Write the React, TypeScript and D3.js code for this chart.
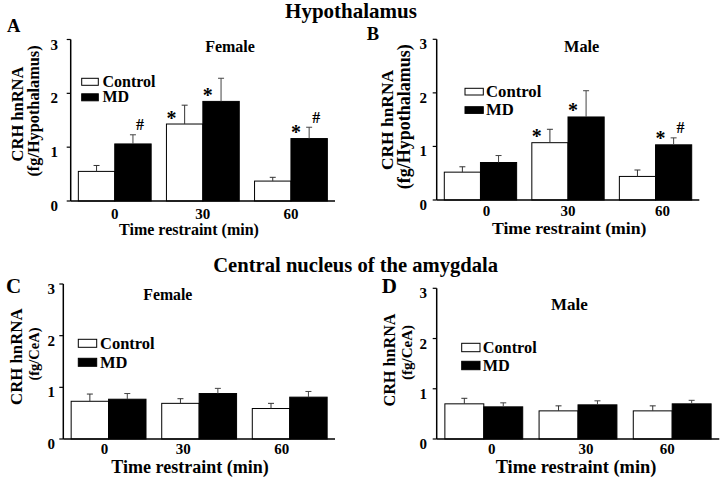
import React from "react";
import * as d3 from "d3";

// ---------- data ----------
const categories = ["0", "30", "60"];
const seriesNames = ["Control", "MD"];
const yTicks = [0, 1, 2, 3];

const hypoFemaleControl = [0.55, 1.43, 0.37];
const hypoFemaleControlSem = [0.11, 0.35, 0.07];
const hypoFemaleMD = [1.06, 1.85, 1.16];
const hypoFemaleMDSem = [0.17, 0.43, 0.21];

const hypoMaleControl = [0.52, 1.07, 0.44];
const hypoMaleControlSem = [0.1, 0.25, 0.12];
const hypoMaleMD = [0.7, 1.55, 1.03];
const hypoMaleMDSem = [0.13, 0.49, 0.13];

const ceaFemaleControl = [0.73, 0.69, 0.59];
const ceaFemaleControlSem = [0.14, 0.09, 0.1];
const ceaFemaleMD = [0.77, 0.88, 0.81];
const ceaFemaleMDSem = [0.11, 0.1, 0.11];

const ceaMaleControl = [0.7, 0.56, 0.56];
const ceaMaleControlSem = [0.11, 0.1, 0.1];
const ceaMaleMD = [0.64, 0.68, 0.7];
const ceaMaleMDSem = [0.08, 0.08, 0.07];

// significance marks: [group index, series index, symbol]
const hypoFemaleMarks: [number, number, string][] = [
  [0, 1, "#"],
  [1, 0, "*"],
  [1, 1, "*"],
  [2, 1, "*"],
  [2, 1, "#"],
];
const hypoMaleMarks: [number, number, string][] = [
  [1, 0, "*"],
  [1, 1, "*"],
  [2, 1, "*"],
  [2, 1, "#"],
];
const ceaMarks: [number, number, string][] = [];

const FONT = "'Liberation Serif', 'Times New Roman', Times, serif";

type Panel = {
  letter: string;
  sex: string;
  unit: string;
  values: number[][];
  sems: number[][];
  marks: [number, number, string][];
  x0: number; x1: number; y0: number; y3: number;
  letterX: number; letterY: number; letterSize: number;
  sexX: number; sexY: number; sexSize: number;
  legX: number; legY: number; legW: number; legH: number; legTextX: number; legStep: number; legSize: number;
  yl1X: number; yl1Y: number; yl1Size: number;
  yl2X: number; yl2Y: number; yl2Size: number;
  tickY: number; tickDx: number[]; titleX: number; titleY: number; titleSize: number;
  yTickX: number;
};

const panels: Panel[] = [
  {
    letter: "A", sex: "Female", unit: "(fg/Hypothalamus)",
    values: [hypoFemaleControl, hypoFemaleMD], sems: [hypoFemaleControlSem, hypoFemaleMDSem], marks: hypoFemaleMarks,
    x0: 70.7, x1: 335, y0: 201, y3: 39.5,
    letterX: 7, letterY: 31.7, letterSize: 18.5,
    sexX: 230, sexY: 51.7, sexSize: 16,
    legX: 81.7, legY: 78.3, legW: 16.6, legH: 7, legTextX: 102.5, legStep: 15.5, legSize: 16,
    yl1X: 23, yl1Y: 114, yl1Size: 16.5,
    yl2X: 38.5, yl2Y: 111, yl2Size: 16.3,
    tickY: 219, tickDx: [0, 0, 0], titleX: 189, titleY: 234.5, titleSize: 16,
    yTickX: 58,
  },
  {
    letter: "B", sex: "Male", unit: "(fg/Hypothalamus)",
    values: [hypoMaleControl, hypoMaleMD], sems: [hypoMaleControlSem, hypoMaleMDSem], marks: hypoMaleMarks,
    x0: 436.7, x1: 699.3, y0: 200, y3: 39.3,
    letterX: 366.7, letterY: 40, letterSize: 18.5,
    sexX: 581.7, sexY: 51.7, sexSize: 16.3,
    legX: 465, legY: 88.3, legW: 18.3, legH: 6.7, legTextX: 486, legStep: 18.4, legSize: 16.7,
    yl1X: 393, yl1Y: 120, yl1Size: 17.4,
    yl2X: 409.5, yl2Y: 116.7, yl2Size: 18,
    tickY: 216, tickDx: [6, 0, 7], titleX: 569.2, titleY: 233.5, titleSize: 17.7,
    yTickX: 427,
  },
  {
    letter: "C", sex: "Female", unit: "(fg/CeA)",
    values: [ceaFemaleControl, ceaFemaleMD], sems: [ceaFemaleControlSem, ceaFemaleMDSem], marks: ceaMarks,
    x0: 63.3, x1: 335, y0: 439, y3: 284,
    letterX: 6, letterY: 293, letterSize: 21,
    sexX: 167.8, sexY: 300, sexSize: 15.8,
    legX: 78.3, legY: 339.3, legW: 18.4, legH: 8, legTextX: 100, legStep: 19, legSize: 16.5,
    yl1X: 21.7, yl1Y: 356.7, yl1Size: 16.8,
    yl2X: 38.5, yl2Y: 354, yl2Size: 14.5,
    tickY: 454, tickDx: [-4, -16, -8], titleX: 190, titleY: 472.5, titleSize: 18,
    yTickX: 55,
  },
  {
    letter: "D", sex: "Male", unit: "(fg/CeA)",
    values: [ceaMaleControl, ceaMaleMD], sems: [ceaMaleControlSem, ceaMaleMDSem], marks: ceaMarks,
    x0: 436.7, x1: 719.3, y0: 439, y3: 288.3,
    letterX: 381.7, letterY: 293, letterSize: 21,
    sexX: 569.3, sexY: 310, sexSize: 17,
    legX: 461.7, legY: 343.3, legW: 18.3, legH: 8.4, legTextX: 482.7, legStep: 18, legSize: 16.3,
    yl1X: 395, yl1Y: 360, yl1Size: 16.2,
    yl2X: 412, yl2Y: 352.5, yl2Size: 15,
    tickY: 454, tickDx: [8, 8, -5], titleX: 576, titleY: 472.5, titleSize: 18.4,
    yTickX: 427,
  },
];

function PanelView({ p }: { p: Panel }) {
  const x = d3.scaleBand<string>().domain(categories).range([p.x0, p.x1]).padding(0);
  const inner = d3
    .scaleBand<string>()
    .domain(seriesNames)
    .range([0, x.bandwidth()])
    .paddingOuter(0.21)
    .paddingInner(0);
  const y = d3.scaleLinear().domain([0, 3]).range([p.y0, p.y3]);
  const bw = inner.bandwidth();

  return (
    <g fontFamily={FONT} fontWeight="bold" fill="#000">
      <text x={p.letterX} y={p.letterY} fontSize={p.letterSize}>{p.letter}</text>
      {seriesNames.map((s, si) =>
        categories.map((c, ci) => {
          const v = p.values[si][ci];
          const bx = (x(c) as number) + (inner(s) as number);
          return (
            <rect
              key={s + c}
              x={bx}
              y={y(v)}
              width={bw}
              height={p.y0 - y(v)}
              fill={si === 0 ? "#fff" : "#000"}
              stroke="#000"
              strokeWidth={1}
            />
          );
        })
      )}
      {seriesNames.map((s, si) =>
        categories.map((c, ci) => {
          const v = p.values[si][ci];
          const e = v + p.sems[si][ci];
          const cx = (x(c) as number) + (inner(s) as number) + bw / 2;
          return (
            <g key={"e" + s + c} stroke={si === 0 ? "#333" : "#444"} strokeWidth={1}>
              <line x1={cx} x2={cx} y1={y(v)} y2={y(e)} />
              <line x1={cx - 3} x2={cx + 3} y1={y(e)} y2={y(e)} />
            </g>
          );
        })
      )}
      {p.marks.map(([ci, si, sym], i) => {
        const c = categories[ci];
        const s = seriesNames[si];
        const v = p.values[si][ci];
        const e = v + p.sems[si][ci];
        const bx = (x(c) as number) + (inner(s) as number);
        if (sym === "*") {
          return (
            <text key={i} x={bx + 5} y={y(v) - 9 + 9.5} fontSize={20} textAnchor="middle">*</text>
          );
        }
        return (
          <text key={i} x={bx + bw / 2 + 7} y={y(e) - 10 + 5.5} fontSize={16} textAnchor="middle">#</text>
        );
      })}
      <line x1={p.x0} x2={p.x0} y1={p.y0} y2={p.y3} stroke="#000" strokeWidth={1.5} />
      <line x1={p.x0} x2={p.x1} y1={p.y0} y2={p.y0} stroke="#000" strokeWidth={1.5} />
      {yTicks.map((t) => (
        <g key={"t" + t}>
          <line x1={p.x0 - 4} x2={p.x0} y1={y(t)} y2={y(t)} stroke="#000" strokeWidth={1.2} />
          <text x={p.yTickX} y={y(t) + 10} fontSize={15} textAnchor="end">{t}</text>
        </g>
      ))}
      {categories.map((c, ci) => (
        <text
          key={"c" + c}
          x={(x(c) as number) + x.bandwidth() / 2 + p.tickDx[ci]}
          y={p.tickY}
          fontSize={15}
          textAnchor="middle"
        >
          {c}
        </text>
      ))}
      <text x={p.titleX} y={p.titleY} fontSize={p.titleSize} textAnchor="middle">Time restraint (min)</text>
      <text
        transform={`translate(${p.yl1X},${p.yl1Y}) rotate(-90)`}
        fontSize={p.yl1Size}
        textAnchor="middle"
      >
        CRH hnRNA
      </text>
      <text
        transform={`translate(${p.yl2X},${p.yl2Y}) rotate(-90)`}
        fontSize={p.yl2Size}
        textAnchor="middle"
      >
        {p.unit}
      </text>
      <text x={p.sexX} y={p.sexY} fontSize={p.sexSize} textAnchor="middle">{p.sex}</text>
      {seriesNames.map((s, si) => (
        <g key={"l" + s}>
          <rect
            x={p.legX}
            y={p.legY + si * p.legStep}
            width={p.legW}
            height={p.legH}
            fill={si === 0 ? "#fff" : "#000"}
            stroke="#000"
            strokeWidth={1}
          />
          <text x={p.legTextX} y={p.legY + si * p.legStep + p.legH + 1.5} fontSize={p.legSize}>{s}</text>
        </g>
      ))}
    </g>
  );
}

export default function App() {
  return (
    <svg
      width={726}
      height={480}
      style={{ position: "absolute", left: 0, top: 0, background: "#fff" }}
    >
      <rect x={0} y={0} width={726} height={480} fill="#fff" />
      <text x={351} y={17.5} fontFamily={FONT} fontWeight="bold" fontSize={21} textAnchor="middle">
        Hypothalamus
      </text>
      <text x={355.7} y={271.7} fontFamily={FONT} fontWeight="bold" fontSize={20.6} textAnchor="middle">
        Central nucleus of the amygdala
      </text>
      {panels.map((p) => (
        <PanelView key={p.letter} p={p} />
      ))}
    </svg>
  );
}
